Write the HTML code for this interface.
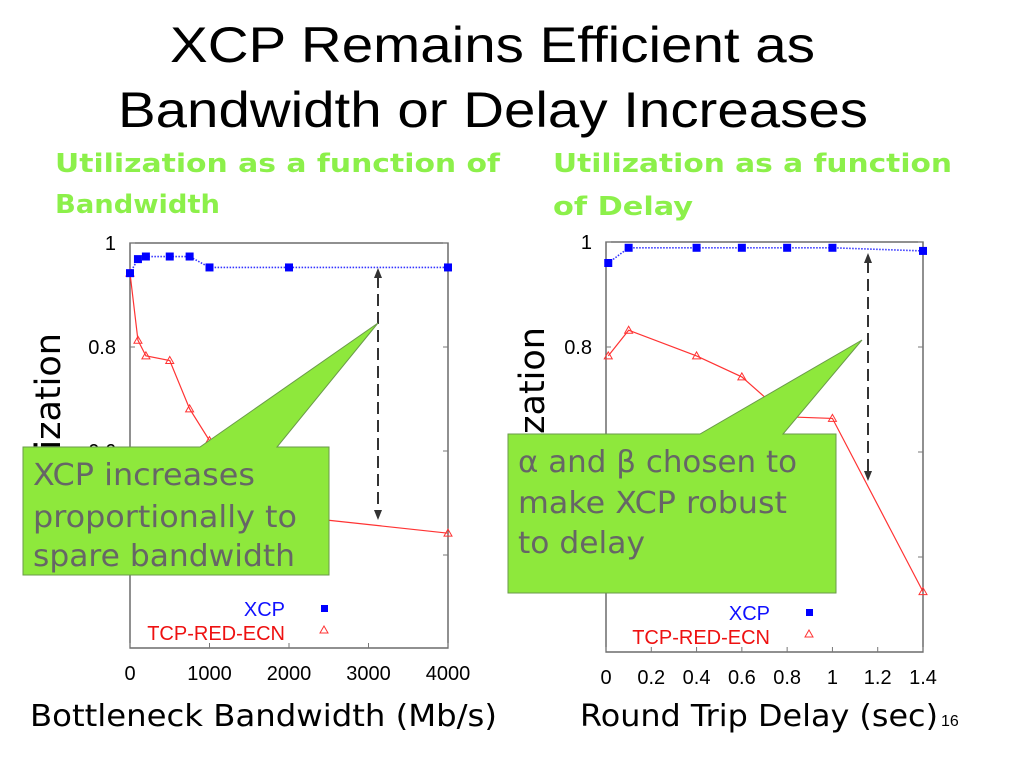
<!DOCTYPE html>
<html><head><meta charset="utf-8"><style>
body{margin:0;width:1024px;height:768px;background:#fff;overflow:hidden;font-family:"Liberation Sans",sans-serif}
svg{display:block}
</style></head><body>
<svg id="s" width="1024" height="768" xmlns="http://www.w3.org/2000/svg">
<text x="170" y="62" font-size="50" textLength="645" lengthAdjust="spacingAndGlyphs" font-family="Liberation Sans">XCP Remains Efficient as</text>
<text x="118" y="127" font-size="50" textLength="750" lengthAdjust="spacingAndGlyphs" font-family="Liberation Sans">Bandwidth or Delay Increases</text>
<g fill="#8cf04a" font-weight="bold" font-size="26" font-family="DejaVu Sans Condensed, DejaVu Sans, sans-serif">
<text x="55" y="172" textLength="445" lengthAdjust="spacingAndGlyphs">Utilization as a function of</text>
<text x="55" y="213" textLength="165" lengthAdjust="spacingAndGlyphs">Bandwidth</text>
<text x="553" y="172" textLength="399" lengthAdjust="spacingAndGlyphs">Utilization as a function</text>
<text x="553" y="215" textLength="140" lengthAdjust="spacingAndGlyphs">of Delay</text>
</g>
<text transform="translate(60,333) rotate(-90)" text-anchor="end" font-size="35" font-family="DejaVu Sans">Utilization</text>
<text transform="translate(544,327) rotate(-90)" text-anchor="end" font-size="35" font-family="DejaVu Sans">Utilization</text>
<g id="left"></g>
<g id="right"></g>
<text x="30" y="726" font-size="30" textLength="467" lengthAdjust="spacingAndGlyphs" font-family="DejaVu Sans">Bottleneck Bandwidth (Mb/s)</text>
<text x="580" y="726" font-size="30" textLength="358" lengthAdjust="spacingAndGlyphs" font-family="DejaVu Sans">Round Trip Delay (sec)</text>
<text x="941" y="726" font-size="16">16</text>
</svg>
<script>
const leftX = [0,100,200,500,750,1000,2000,4000];
const leftXcp = [0.942,0.969,0.974,0.974,0.974,0.953,0.953,0.953];
const leftTcp = [0.942,0.813,0.783,0.774,0.681,0.62,0.475,0.442];
const leftTicksX = [0,1000,2000,3000,4000];
const rightX = [0.01,0.1,0.4,0.6,0.8,1.0,1.4];
const rightXcp = [0.96,0.989,0.989,0.989,0.989,0.989,0.983];
const rightTcp = [0.783,0.832,0.783,0.743,0.667,0.664,0.334];
const rightTicksX = [0,0.2,0.4,0.6,0.8,1,1.2,1.4];
const ticksY = [1,0.8,0.6,0.4];
const NS="http://www.w3.org/2000/svg";
function mk(p,t,a){const e=document.createElementNS(NS,t);for(const k in a)e.setAttribute(k,a[k]);p.appendChild(e);return e;}
function chart(g,cfg){
 const sx=v=>cfg.x0+(v-cfg.xmin)/(cfg.xmax-cfg.xmin)*(cfg.x1-cfg.x0);
 const sy=v=>cfg.yTop+(1-v)*cfg.pxPerUnit;
 const fr=mk(g,'rect',{x:cfg.x0,y:cfg.yTop,width:cfg.x1-cfg.x0,height:cfg.yBot-cfg.yTop,fill:'none',stroke:'#555','stroke-width':1.3});
 
 
 cfg.tx.forEach(v=>{
  const t=mk(g,'text',{x:sx(v),y:cfg.yBot+32,'font-size':20,'text-anchor':'middle'});t.textContent=String(v);
  
  
  mk(g,'line',{x1:sx(v),x2:sx(v),y1:cfg.yBot,y2:cfg.yBot-5,stroke:'#777'});
 });
 ticksY.forEach(v=>{
  const y=sy(v);
  mk(g,'line',{x1:cfg.x0,x2:cfg.x0+5,y1:y,y2:y,stroke:'#777'});
  mk(g,'line',{x1:cfg.x1,x2:cfg.x1-5,y1:y,y2:y,stroke:'#777'});
  const t=mk(g,'text',{x:cfg.x0-14,y:y+7,'font-size':20,'text-anchor':'end'});t.textContent=String(v);
  
  
 });
 const pX=cfg.xs.map((v,i)=>sx(v)+','+sy(cfg.xcp[i])).join(' ');
 const pT=cfg.xs.map((v,i)=>sx(v)+','+sy(cfg.tcp[i])).join(' ');
 const lt=mk(g,'polyline',{points:pT,fill:'none',stroke:'#f33','stroke-width':1.2});
 
 
 const lx=mk(g,'polyline',{points:pX,fill:'none',stroke:'#33f','stroke-width':1.6,'stroke-dasharray':'1.5 1.5'});
 
 
 cfg.xs.forEach((v,i)=>{
  const x=sx(v),y=sy(cfg.tcp[i]);
  const m=mk(g,'polygon',{points:`${x},${y-4} ${x-4},${y+3} ${x+4},${y+3}`,fill:'none',stroke:'#f33'});
  
  
 });
 cfg.xs.forEach((v,i)=>{
  const r=mk(g,'rect',{x:sx(v)-4,y:sy(cfg.xcp[i])-4,width:8,height:8,fill:'#00f'});
  
  
 });
 const a=mk(g,'text',{x:cfg.lx,y:cfg.ly,'font-size':20,'text-anchor':'end',fill:'#11f'});a.textContent='XCP';
 
 
 mk(g,'rect',{x:cfg.lx+36,y:cfg.ly-11,width:7,height:7,fill:'#00f'});
 const b=mk(g,'text',{x:cfg.lx,y:cfg.ly+24,'font-size':20,'text-anchor':'end',fill:'#e11'});b.textContent='TCP-RED-ECN';
 
 
 const m=cfg.lx+39,n=cfg.ly+14;
 mk(g,'polygon',{points:`${m},${n-4} ${m-4},${n+3} ${m+4},${n+3}`,fill:'none',stroke:'#f33'});
 const d=mk(g,'line',{x1:cfg.ax,x2:cfg.ax,y1:cfg.ay0+8,y2:cfg.ay1-8,stroke:'#333','stroke-width':2,'stroke-dasharray':'12 6'});
 
 
 mk(g,'polygon',{points:`${cfg.ax},${cfg.ay0} ${cfg.ax-4},${cfg.ay0+10} ${cfg.ax+4},${cfg.ay0+10}`,fill:'#333'});
 mk(g,'polygon',{points:`${cfg.ax},${cfg.ay1} ${cfg.ax-4},${cfg.ay1-10} ${cfg.ax+4},${cfg.ay1-10}`,fill:'#333'});
}
chart(document.getElementById('left'),{x0:130,x1:448,xmin:0,xmax:4000,yTop:243,yBot:648,pxPerUnit:520,xs:leftX,xcp:leftXcp,tcp:leftTcp,tx:leftTicksX,lx:285,ly:616,ax:378,ay0:268,ay1:520});
chart(document.getElementById('right'),{x0:606,x1:923,xmin:0,xmax:1.4,yTop:242,yBot:652,pxPerUnit:525,xs:rightX,xcp:rightXcp,tcp:rightTcp,tx:rightTicksX,lx:770,ly:620,ax:868,ay0:253,ay1:481});
</script>
<svg width="1024" height="768" style="position:absolute;left:0;top:0" xmlns="http://www.w3.org/2000/svg">
<g>
<polygon points="23,447 200,447 378,323 277,447 329,447 329,575 23,575" fill="#8ee83c" stroke="#6a9a4a" stroke-width="1"/>
<g font-family="DejaVu Sans" font-size="30" fill="#666">
<text x="33" y="485" textLength="222" lengthAdjust="spacingAndGlyphs">XCP increases</text>
<text x="33" y="527" textLength="264" lengthAdjust="spacingAndGlyphs">proportionally to</text>
<text x="33" y="566" textLength="262" lengthAdjust="spacingAndGlyphs">spare bandwidth</text>
</g></g>
<g>
<polygon points="508,434 700,434 862,340 783,434 836,434 836,593 508,593" fill="#8ee83c" stroke="#6a9a4a" stroke-width="1"/>
<g font-family="DejaVu Sans" font-size="30" fill="#666">
<text x="518" y="472" textLength="279" lengthAdjust="spacingAndGlyphs">α and β chosen to</text>
<text x="518" y="513" textLength="269" lengthAdjust="spacingAndGlyphs">make XCP robust</text>
<text x="518" y="553" textLength="127" lengthAdjust="spacingAndGlyphs">to delay</text>
</g></g>
</svg>
</body></html>
